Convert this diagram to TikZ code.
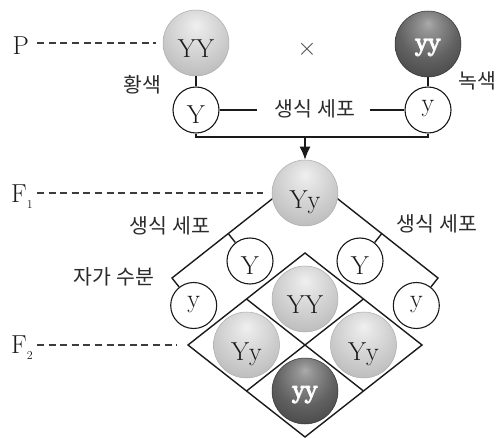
\documentclass[tikz,border=0pt]{standalone}
\usepackage{fontspec}
\usetikzlibrary{arrows.meta,calc}
\newfontfamily\kr{Noto Sans CJK KR}

\definecolor{ink}{HTML}{1A1A1A}
\definecolor{krink}{HTML}{2A2A2A}
\definecolor{guidegray}{HTML}{3C3C3C}
\definecolor{rim}{HTML}{202020}

% shaded spheres, highlight a little above the middle
\pgfdeclareradialshading{lightball}{\pgfpoint{0bp}{14bp}}{%
  color(0bp)=(white!94!black);
  color(6bp)=(white!90!black);
  color(26bp)=(white!78!black);
  color(44bp)=(white!67!black);
  color(56bp)=(white!62!black);
  color(66bp)=(white!60!black)}
\pgfdeclareradialshading{darkball}{\pgfpoint{0bp}{16bp}}{%
  color(0bp)=(black!33);
  color(6bp)=(black!43);
  color(22bp)=(black!62);
  color(40bp)=(black!75);
  color(54bp)=(black!83);
  color(66bp)=(black!86)}

% white letters with a dark rim
\newsavebox\ringbox
\newcommand{\ringtext}[1]{%
  \sbox\ringbox{#1}%
  \makebox[\wd\ringbox][l]{%
    \rlap{\kern0.7pt\textcolor{rim}{\usebox\ringbox}}%
    \rlap{\kern-0.7pt\textcolor{rim}{\usebox\ringbox}}%
    \rlap{\raisebox{0.7pt}{\textcolor{rim}{\usebox\ringbox}}}%
    \rlap{\raisebox{-0.7pt}{\textcolor{rim}{\usebox\ringbox}}}%
    \rlap{\kern0.5pt\raisebox{0.5pt}{\textcolor{rim}{\usebox\ringbox}}}%
    \rlap{\kern-0.5pt\raisebox{0.5pt}{\textcolor{rim}{\usebox\ringbox}}}%
    \rlap{\kern0.5pt\raisebox{-0.5pt}{\textcolor{rim}{\usebox\ringbox}}}%
    \rlap{\kern-0.5pt\raisebox{-0.5pt}{\textcolor{rim}{\usebox\ringbox}}}%
    \rlap{\textcolor{white}{\usebox\ringbox}}}}

\tikzset{
  latin/.style={font=\fontsize{26}{26}\selectfont, text=ink},
  ball/.style={circle, minimum size=66pt, inner sep=0pt, latin,
               shade, shading=lightball, draw=gray!65, line width=0.5pt,
               text depth=0pt},
  darksphere/.style={circle, minimum size=66pt, inner sep=0pt,
               font=\fontsize{26}{26}\selectfont,
               shade, shading=darkball, draw=black!80, line width=0.5pt,
               text depth=0pt, text height=14pt},
  capsfix/.style={text height=30pt},
  gamete/.style={circle, minimum size=46pt, inner sep=0pt, latin,
                 fill=white, draw=ink, line width=1.1pt, text depth=0pt},
  bigY/.style={text height=28pt},
  smally/.style={text height=4pt},
  krlabel/.style={font=\kr\fontsize{20.5}{20.5}\selectfont, text=krink, inner sep=0pt},
  genlabel/.style={latin, anchor=base west, inner sep=0pt},
  guide/.style={draw=guidegray, line width=1.3pt, dash pattern=on 7pt off 4.6pt},
  wire/.style={draw=ink, line width=1.4pt},
}

\begin{document}
\begin{tikzpicture}[x=1pt, y=-1pt]
\useasboundingbox (0,0) rectangle (498,438);

% ---------- parents ----------
\node[ball, capsfix] (pYY) at (196,43) {YY};
\node[darksphere, text=white] (pyy) at (428,44) {\ringtext{yy}};
\node[font=\fontsize{23}{23}\selectfont, text=black!70] (cross) at (307,49) {$\times$};

\node[gamete, bigY] (gY) at (196,110) {Y};
\node[gamete, smally] (gy) at (428,110) {y};

\node[krlabel] (yellow) at (142,85) {황색};
\node[krlabel] (green) at (477,81) {녹색};
\node[krlabel] (gamTop) at (315,109) {생식 세포};

\draw[wire] (pYY) -- (gY);
\draw[wire] (pyy) -- (gy);
\draw[wire, shorten >=18pt] (gY.east) -- (gY.east -| gamTop.west);
\draw[wire, shorten <=15pt] (gy.west -| gamTop.east) -- (gy.west);

% join of the two gametes and the arrow to F1
\coordinate (bl) at (196,137);
\coordinate (br) at (428,137);
\draw[wire] (gY) -- (bl) -- (br) -- (gy);

% ---------- F1 and its gametes ----------
\coordinate (oa) at (305,173);
\coordinate (ol) at (172,278);
\coordinate (or) at (438,278);
\coordinate (fl) at (228.3,233.6);
\coordinate (fr) at (381.7,233.6);

\node[gamete, bigY] (lY) at (250,261) {Y};
\node[gamete, bigY] (rY) at (360,261) {Y};
\node[gamete, smally] (ly) at (193.7,305.5) {y};
\node[gamete, smally] (ry) at (416.3,305.5) {y};

\draw[wire] (lY) -- (fl);
\draw[wire] (rY) -- (fr);
\draw[wire, line join=miter] (ly) -- (ol) -- (oa) -- (or) -- (ry);

\node[ball, text height=31pt] (F1) at (305,193) {Yy};
\draw[wire, -{Latex[length=13pt,width=11pt]}] (bl -| F1) -- (F1.north);

\node[krlabel] (gamL) at (170,226) {생식 세포};
\node[krlabel] (gamR) at (437,224) {생식 세포};
\node[krlabel] (selfing) at (114,277) {자가 수분};

% ---------- F2 Punnett square ----------
\coordinate (dt) at (305,253);
\coordinate (dl) at (188,345);
\coordinate (dr) at (422,345);
\coordinate (db) at (305,437);
\draw[wire, line join=miter] (dt) -- (dr) -- (db) -- (dl) -- cycle;
\draw[wire] ($(dt)!0.5!(dl)$) -- ($(dr)!0.5!(db)$);
\draw[wire] ($(dt)!0.5!(dr)$) -- ($(dl)!0.5!(db)$);

\node[ball, capsfix] (cYY) at (305,299) {YY};
\node[ball, text height=30pt] (cYyL) at (246.5,345) {Yy};
\node[ball, text height=31pt] (cYyR) at (363.5,345) {Yy};
\node[darksphere, text=white] (cyy) at (305,391) {\ringtext{yy}};

% ---------- generation labels ----------
\node[genlabel] (labP) at (12.5,55) {P};
\node[genlabel] (labF1) at (11,203) {F\raisebox{-6pt}{\fontsize{12}{12}\selectfont 1}};
\node[genlabel] (labF2) at (11,353) {F\raisebox{-6pt}{\fontsize{12}{12}\selectfont 2}};

\draw[guide, shorten <=8pt, shorten >=7pt] (labP.east |- pYY.west) -- (pYY.west);
\draw[guide, shorten <=4pt, shorten >=9pt] (labF1.east |- F1.west) -- (F1.west);
\draw[guide, shorten <=4pt, shorten >=11pt] (labF2.east |- dl) -- (dl);
\end{tikzpicture}
\end{document}
